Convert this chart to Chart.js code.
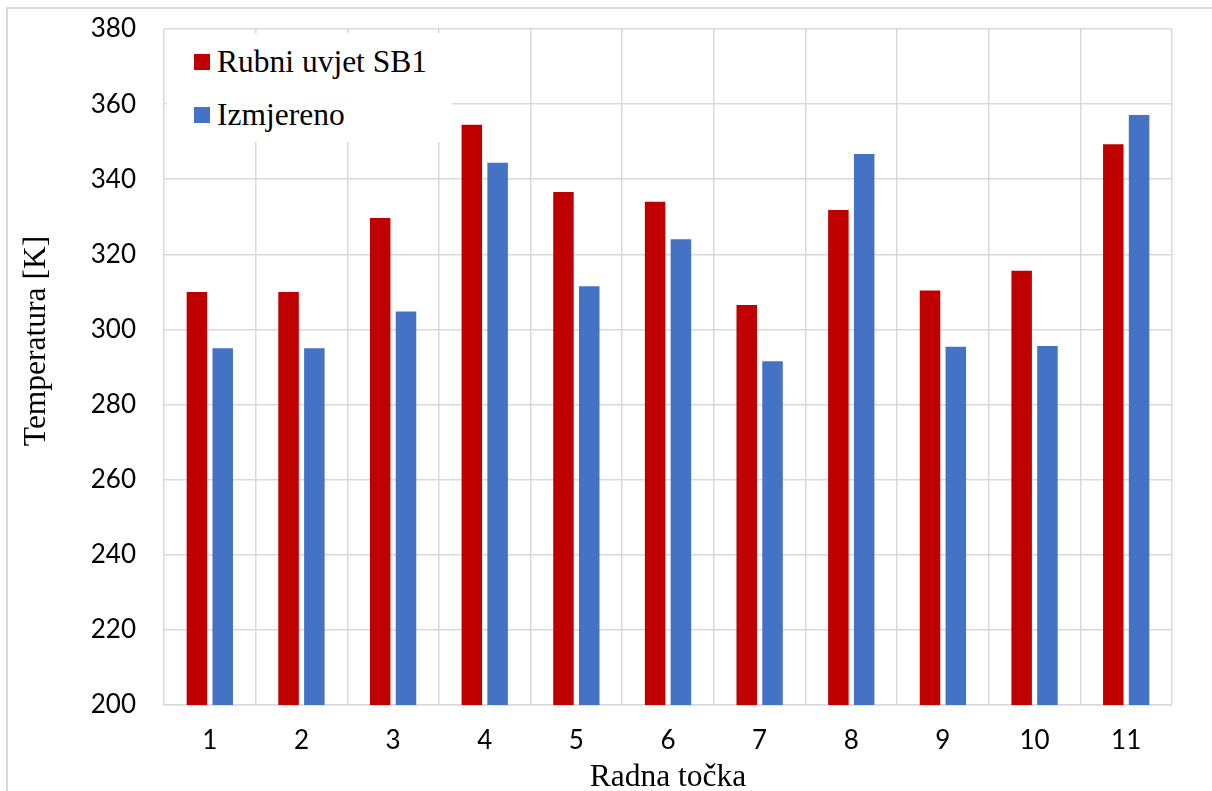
<!DOCTYPE html>
<html>
<head>
<meta charset="utf-8">
<script src="https://cdn.jsdelivr.net/npm/chart.js@4/dist/chart.umd.min.js"></script>
<style>
  html, body { margin: 0; padding: 0; background: #fff; }
  #wrap { position: relative; width: 1212px; height: 791px; overflow: hidden; }
  #frame { position: absolute; left: 6px; top: 7px; width: 1230px; height: 830px; border: 2px solid #d9d9d9; box-sizing: border-box; }
  #box { position: absolute; left: 0; top: 0; width: 1212px; height: 791px; }
  #legend { position: absolute; left: 167px; top: 33px; width: 285px; height: 109px; background: #fff; padding-top: 2.5px; box-sizing: border-box; }
  .item { display: flex; align-items: center; height: 53px; padding-left: 27px; font: 31.5px "Liberation Serif", "Times New Roman", serif; color: #000; }
  .sw { width: 16px; height: 16px; margin-right: 7px; }
  #ytitle { position: absolute; left: -112.6px; top: 321px; width: 300px; height: 40px; line-height: 40px; text-align: center;
            transform: rotate(-90deg); font: 31.5px "Liberation Serif", "Times New Roman", serif; color: #000; white-space: nowrap; }
</style>
</head>
<body>
<div id="wrap">
  <div id="frame"></div>
  <div id="box"><canvas id="chart"></canvas></div>
  <div id="legend"></div>
  <div id="ytitle">Temperatura [K]</div>
</div>
<script>
const categories = ['1', '2', '3', '4', '5', '6', '7', '8', '9', '10', '11'];
const rubniUvjet = [310, 310, 329.7, 354.5, 336.6, 334, 306.5, 331.8, 310.4, 315.6, 349.3];
const izmjereno = [295, 295, 304.8, 344.4, 311.5, 324, 291.5, 346.7, 295.4, 295.6, 357.1];
const seriesNames = ['Rubni uvjet SB1', 'Izmjereno'];
const seriesColors = ['#C00000', '#4472C4'];

const gridColor = '#d9d9d9';
const tickFont = { family: 'Lato, Carlito, Calibri, sans-serif', size: 26 };

const ctx = document.getElementById('chart').getContext('2d');
const chart = new Chart(ctx, {
  type: 'bar',
  data: {
    labels: categories,
    datasets: [
      { label: seriesNames[0], data: rubniUvjet, backgroundColor: seriesColors[0], categoryPercentage: 0.563, barPercentage: 0.795 },
      { label: seriesNames[1], data: izmjereno, backgroundColor: seriesColors[1], categoryPercentage: 0.563, barPercentage: 0.795 }
    ]
  },
  options: {
    animation: false,
    responsive: true,
    maintainAspectRatio: false,
    layout: { padding: { left: 0, top: 29, right: 40, bottom: 0 } },
    plugins: { legend: { display: false }, tooltip: { enabled: false } },
    scales: {
      x: {
        grid: { color: gridColor, lineWidth: 1.5, drawTicks: false, offset: true },
        border: { color: gridColor, width: 1.5 },
        ticks: { font: tickFont, color: '#000', padding: 20 },
        title: {
          display: true, text: 'Radna točka', color: '#000', padding: 0,
          font: { family: '"Liberation Serif", "Times New Roman", serif', size: 31.5, lineHeight: 0.84 }
        },
        afterFit: (s) => { s.height = 86; }
      },
      y: {
        min: 200, max: 380,
        // invisible tick marks give the gap; ticks.padding would also pad the top
        grid: { color: gridColor, lineWidth: 1.5, drawTicks: true, tickLength: 28, tickColor: 'rgba(0,0,0,0)' },
        border: { display: false },
        ticks: { stepSize: 20, font: tickFont, color: '#000', padding: 0 },
        afterFit: (s) => { s.width = 164; }
      }
    }
  }
});

// legend inside the plot, top-left, like the original
const legendEl = document.getElementById('legend');
legendEl.innerHTML = chart.data.datasets.map(d => `
  <div class="item"><span class="sw" style="background:${d.backgroundColor}"></span>${d.label}</div>
`).join('');
</script>
</body>
</html>
